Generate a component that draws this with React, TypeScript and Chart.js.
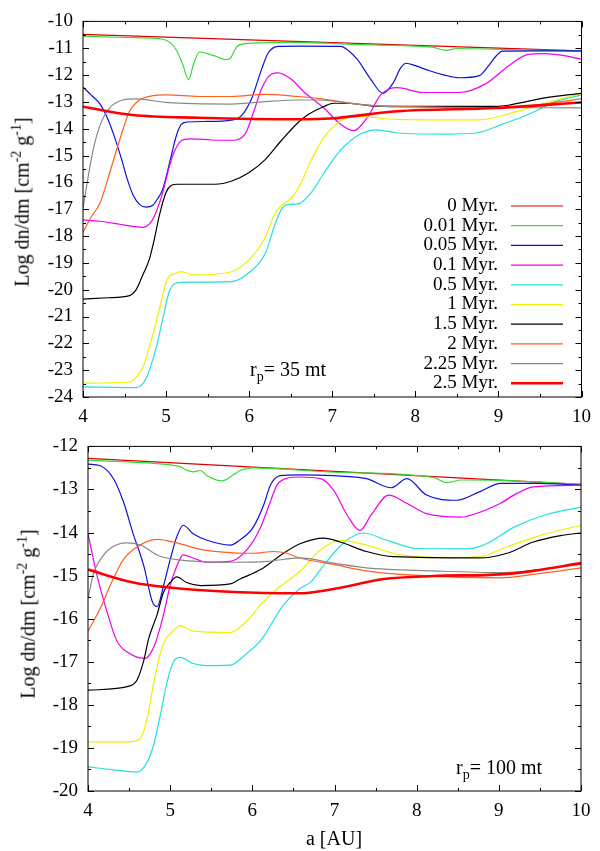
import { useEffect, useRef } from 'react'
import Chart from 'chart.js/auto'

type Pt = [number, number]

const LABELS = ['0 Myr.', '0.01 Myr.', '0.05 Myr.', '0.1 Myr.', '0.5 Myr.', '1 Myr.', '1.5 Myr.', '2 Myr.', '2.25 Myr.', '2.5 Myr.']
const COLORS = ['#dd0000', '#33dd33', '#1010dd', '#ee00ee', '#22e0e0', '#f0f000', '#000000', '#ff6020', '#888888', '#ff0000']
const WIDTHS = [1.2, 1.2, 1.2, 1.2, 1.2, 1.2, 1.2, 1.2, 1.2, 2.6]

const X_MIN = 4
const X_MAX = 10

// r_p = 35 mt
const T_0: Pt[] = [[4, -10.48], [10, -11.1]]
const T_001: Pt[] = [[4, -10.55], [4.5, -10.6], [4.9, -10.64], [5.0, -10.7], [5.06, -10.82], [5.12, -11.05], [5.2, -11.6], [5.27, -12.17], [5.33, -11.6], [5.4, -11.14], [5.5, -11.2], [5.6, -11.3], [5.72, -11.42], [5.77, -11.38], [5.85, -10.95], [5.95, -10.83], [6.5, -10.78], [7.5, -10.88], [8.2, -10.96], [8.37, -11.08], [8.5, -11.01], [9, -11.04], [10, -11.11]]
const T_005: Pt[] = [[4, -12.45], [4.1, -12.75], [4.21, -13.1], [4.3, -13.65], [4.4, -14.5], [4.47, -15.2], [4.53, -15.85], [4.6, -16.45], [4.68, -16.82], [4.76, -16.92], [4.84, -16.85], [4.9, -16.6], [4.96, -16.25], [5.06, -15.04], [5.12, -14.3], [5.18, -13.85], [5.25, -13.75], [5.5, -13.73], [5.79, -13.68], [5.91, -13.5], [6.03, -12.87], [6.15, -11.78], [6.23, -11.17], [6.35, -10.93], [6.6, -10.92], [7.1, -10.93], [7.2, -11.1], [7.3, -11.41], [7.46, -12.14], [7.61, -12.68], [7.74, -12.26], [7.82, -11.75], [7.89, -11.56], [8.0, -11.65], [8.17, -11.84], [8.35, -12.0], [8.53, -12.1], [8.77, -12.02], [8.88, -11.66], [8.97, -11.3], [9.05, -11.11], [9.5, -11.1], [10, -11.1]]
const T_01: Pt[] = [[4, -17.4], [4.2, -17.45], [4.44, -17.56], [4.6, -17.64], [4.72, -17.68], [4.8, -17.55], [4.86, -17.25], [4.96, -16.37], [5.04, -15.4], [5.1, -14.85], [5.16, -14.52], [5.22, -14.4], [5.3, -14.38], [5.55, -14.42], [5.79, -14.43], [5.95, -14.2], [6.07, -13.23], [6.15, -12.5], [6.27, -11.96], [6.35, -11.92], [6.5, -12.14], [6.66, -12.63], [6.9, -13.23], [7.1, -13.83], [7.26, -14.07], [7.42, -13.59], [7.58, -12.75], [7.7, -12.5], [7.78, -12.47], [8.09, -12.65], [8.53, -12.65], [8.85, -12.32], [9.12, -11.66], [9.36, -11.23], [9.56, -11.2], [9.76, -11.26], [10, -11.41]]
const T_05: Pt[] = [[4, -23.62], [4.64, -23.65], [4.76, -23.3], [4.88, -22.18], [4.96, -21.09], [5.04, -20.06], [5.12, -19.76], [5.3, -19.72], [5.79, -19.7], [5.99, -19.39], [6.19, -18.67], [6.31, -17.58], [6.39, -17.0], [6.47, -16.82], [6.59, -16.8], [6.75, -16.37], [6.9, -15.65], [7.1, -14.8], [7.34, -14.2], [7.54, -14.04], [7.78, -14.16], [8.37, -14.2], [8.73, -14.16], [9.05, -13.83], [9.36, -13.47], [9.68, -12.99], [10, -12.75]]
const T_1: Pt[] = [[4, -23.48], [4.55, -23.45], [4.6, -23.38], [4.72, -22.9], [4.84, -21.69], [4.92, -20.73], [5.02, -19.58], [5.12, -19.39], [5.19, -19.33], [5.32, -19.45], [5.79, -19.33], [5.99, -18.91], [6.19, -18.07], [6.31, -17.16], [6.39, -16.86], [6.5, -16.6], [6.59, -16.22], [6.75, -15.16], [6.9, -14.32], [7.1, -13.71], [7.26, -13.53], [7.78, -13.65], [8.77, -13.67], [9.16, -13.41], [9.56, -13.05], [10, -12.68]]
const T_15: Pt[] = [[4, -20.35], [4.3, -20.3], [4.56, -20.22], [4.64, -20.0], [4.72, -19.45], [4.8, -18.85], [4.86, -18.1], [4.92, -17.22], [5.0, -16.37], [5.06, -16.12], [5.14, -16.07], [5.59, -16.07], [5.79, -15.95], [5.99, -15.65], [6.19, -15.16], [6.39, -14.43], [6.59, -13.77], [6.71, -13.47], [6.9, -13.17], [7.02, -13.05], [7.18, -13.05], [7.58, -13.17], [8.97, -13.17], [9.16, -13.1], [9.56, -12.85], [10, -12.68]]
const T_2: Pt[] = [[4, -17.86], [4.09, -17.34], [4.21, -16.73], [4.32, -15.65], [4.44, -14.43], [4.56, -13.35], [4.68, -12.93], [4.84, -12.77], [5.0, -12.74], [5.4, -12.8], [5.79, -12.8], [6.19, -12.72], [6.59, -12.8], [6.83, -12.87], [7.38, -13.11], [7.78, -13.17], [8.97, -13.23], [9.76, -12.99], [10, -12.88]]
const T_225: Pt[] = [[4, -16.97], [4.07, -15.65], [4.13, -14.68], [4.21, -13.83], [4.32, -13.23], [4.48, -12.93], [4.64, -12.89], [5.0, -13.02], [5.79, -13.08], [6.19, -12.99], [6.59, -12.93], [6.83, -12.93], [7.38, -13.11], [7.78, -13.19], [10, -13.22]]
const T_25: Pt[] = [[4, -13.18], [4.6, -13.49], [5.4, -13.59], [6.59, -13.65], [6.98, -13.62], [7.78, -13.35], [8.97, -13.23], [10, -13.02]]

// r_p = 100 mt
const B_0: Pt[] = [[4, -12.28], [10, -12.88]]
const B_001: Pt[] = [[4, -12.32], [5.0, -12.43], [5.12, -12.47], [5.2, -12.55], [5.28, -12.59], [5.37, -12.56], [5.45, -12.68], [5.63, -12.8], [5.77, -12.66], [5.85, -12.56], [6.0, -12.5], [7, -12.6], [8.2, -12.72], [8.37, -12.84], [8.55, -12.78], [9, -12.79], [10, -12.88]]
const B_005: Pt[] = [[4, -12.41], [4.15, -12.45], [4.31, -12.75], [4.43, -13.28], [4.55, -14.03], [4.68, -14.78], [4.78, -15.59], [4.84, -15.72], [4.92, -15.23], [5.0, -14.63], [5.08, -14.1], [5.16, -13.83], [5.28, -14.03], [5.45, -14.18], [5.73, -14.29], [5.85, -14.17], [6.01, -13.88], [6.14, -13.35], [6.22, -12.9], [6.34, -12.68], [6.58, -12.66], [6.99, -12.68], [7.39, -12.75], [7.69, -12.96], [7.88, -12.75], [8.12, -13.13], [8.49, -13.25], [8.77, -13.05], [9.02, -12.86], [9.42, -12.86], [10, -12.9]]
const B_01: Pt[] = [[4, -14.03], [4.11, -15.0], [4.23, -15.83], [4.35, -16.51], [4.5, -16.8], [4.7, -16.92], [4.79, -16.7], [4.84, -16.45], [4.92, -15.9], [5.0, -15.23], [5.08, -14.78], [5.16, -14.52], [5.28, -14.59], [5.45, -14.69], [5.73, -14.67], [5.93, -14.41], [6.1, -13.88], [6.22, -13.28], [6.3, -12.9], [6.42, -12.74], [6.58, -12.71], [6.83, -12.75], [6.99, -13.02], [7.15, -13.58], [7.31, -13.95], [7.45, -13.58], [7.66, -13.13], [7.88, -13.32], [8.12, -13.56], [8.53, -13.64], [8.69, -13.58], [9.02, -13.32], [9.22, -13.09], [9.42, -12.94], [10, -12.9]]
const B_05: Pt[] = [[4, -19.44], [4.27, -19.5], [4.6, -19.56], [4.72, -19.33], [4.8, -18.92], [4.88, -18.24], [4.96, -17.49], [5.04, -17.0], [5.12, -16.9], [5.28, -17.04], [5.45, -17.09], [5.73, -17.08], [5.93, -16.81], [6.1, -16.51], [6.38, -15.68], [6.58, -15.3], [6.71, -15.15], [6.83, -14.86], [6.99, -14.48], [7.15, -14.18], [7.35, -14.01], [7.64, -14.18], [8.0, -14.37], [8.61, -14.38], [8.85, -14.26], [9.18, -13.88], [9.58, -13.58], [10, -13.41]]
const B_1: Pt[] = [[4, -18.86], [4.51, -18.86], [4.64, -18.77], [4.72, -18.32], [4.8, -17.49], [4.88, -16.81], [4.96, -16.43], [5.0, -16.36], [5.12, -16.16], [5.28, -16.29], [5.73, -16.32], [5.93, -16.06], [6.1, -15.68], [6.3, -15.31], [6.58, -14.9], [6.83, -14.4], [7.07, -14.18], [7.39, -14.29], [7.8, -14.52], [8.41, -14.58], [8.77, -14.56], [9.1, -14.33], [9.5, -14.07], [10, -13.83]]
const B_15: Pt[] = [[4, -17.66], [4.51, -17.56], [4.6, -17.41], [4.68, -16.96], [4.74, -16.45], [4.84, -15.91], [4.92, -15.38], [5.0, -15.16], [5.08, -15.03], [5.2, -15.16], [5.37, -15.23], [5.73, -15.19], [5.85, -15.08], [6.1, -14.86], [6.38, -14.48], [6.58, -14.26], [6.87, -14.13], [7.07, -14.22], [7.39, -14.44], [7.72, -14.56], [8.77, -14.59], [9.1, -14.48], [9.42, -14.22], [9.75, -14.07], [10, -14.01]]
const B_2: Pt[] = [[4, -16.29], [4.15, -15.76], [4.27, -15.23], [4.43, -14.63], [4.6, -14.33], [4.84, -14.16], [5.08, -14.24], [5.37, -14.39], [5.77, -14.47], [6.01, -14.48], [6.26, -14.44], [6.42, -14.48], [6.58, -14.59], [6.99, -14.74], [7.39, -14.89], [7.8, -14.97], [9.02, -15.05], [9.42, -14.97], [10, -14.82]]
const B_225: Pt[] = [[4, -15.53], [4.07, -14.93], [4.15, -14.63], [4.27, -14.37], [4.47, -14.24], [4.64, -14.29], [4.84, -14.52], [5.08, -14.63], [5.77, -14.69], [6.18, -14.67], [6.58, -14.59], [6.99, -14.71], [7.39, -14.82], [8.21, -14.89], [9.02, -14.93], [10, -14.74]]
const B_25: Pt[] = [[4, -14.86], [4.55, -15.16], [4.96, -15.27], [5.77, -15.38], [6.58, -15.41], [6.99, -15.31], [7.6, -15.08], [8.2, -15.01], [9.02, -14.97], [9.42, -14.89], [10, -14.71]]

const TOP_SERIES = [T_0, T_001, T_005, T_01, T_05, T_1, T_15, T_2, T_225, T_25]
const BOTTOM_SERIES = [B_0, B_001, B_005, B_01, B_05, B_1, B_15, B_2, B_225, B_25]

const FONT = '"Liberation Serif", "Times New Roman", serif'

// gnuplot style box with inward ticks on all four sides
const framePlugin = {
  id: 'frame',
  afterDatasetsDraw(chart: any) {
    const { ctx, chartArea: a, scales } = chart
    const xs = scales.x
    const ys = scales.y
    ctx.save()
    ctx.strokeStyle = '#000'
    ctx.lineWidth = 1
    ctx.strokeRect(a.left, a.top, a.right - a.left, a.bottom - a.top)
    ctx.beginPath()
    for (let v = xs.min; v <= xs.max + 1e-6; v += 0.5) {
      const px = Math.round(xs.getPixelForValue(v)) + 0.5
      const len = Math.abs(v - Math.round(v)) < 1e-6 ? 6 : 3
      ctx.moveTo(px, a.bottom)
      ctx.lineTo(px, a.bottom - len)
      ctx.moveTo(px, a.top)
      ctx.lineTo(px, a.top + len)
    }
    for (let v = ys.min; v <= ys.max + 1e-6; v += 0.5) {
      const py = Math.round(ys.getPixelForValue(v)) + 0.5
      const len = Math.abs(v - Math.round(v)) < 1e-6 ? 6 : 3
      ctx.moveTo(a.left, py)
      ctx.lineTo(a.left + len, py)
      ctx.moveTo(a.right, py)
      ctx.lineTo(a.right - len, py)
    }
    ctx.stroke()
    ctx.restore()
  },
}

// key in the top panel: right-aligned text, sample line on the right
const keyPlugin = {
  id: 'key',
  afterDraw(chart: any) {
    const { ctx } = chart
    ctx.save()
    ctx.font = `19px ${FONT}`
    ctx.textAlign = 'right'
    ctx.textBaseline = 'middle'
    chart.data.datasets.forEach((ds: any, i: number) => {
      const y = 206 + i * 19.7
      ctx.fillStyle = '#000'
      ctx.fillText(ds.label, 498, y)
      ctx.strokeStyle = ds.borderColor
      ctx.lineWidth = ds.borderWidth
      ctx.beginPath()
      ctx.moveTo(511, y)
      ctx.lineTo(563, y)
      ctx.stroke()
    })
    ctx.restore()
  },
}

type PanelProps = {
  series: Pt[][]
  yMin: number
  yMax: number
  top: number
  height: number
  area: { left: number; right: number; top: number; bottom: number }
  withKey?: boolean
}

function Panel({ series, yMin, yMax, top, height, area, withKey }: PanelProps) {
  const canvasRef = useRef<HTMLCanvasElement>(null)

  useEffect(() => {
    if (!canvasRef.current) return
    const tickFont = { family: FONT, size: 19 }
    const chart = new Chart(canvasRef.current, {
      type: 'line',
      data: {
        datasets: series.map((pts, i) => ({
          label: LABELS[i],
          data: pts.map(([x, y]) => ({ x, y })),
          borderColor: COLORS[i],
          backgroundColor: COLORS[i],
          borderWidth: WIDTHS[i],
          pointRadius: 0,
          cubicInterpolationMode: 'monotone' as const,
          fill: false,
          order: series.length - i,
        })),
      },
      options: {
        animation: false,
        responsive: true,
        maintainAspectRatio: false,
        events: [],
        layout: { padding: { top: area.top, right: 600 - area.right, left: 0, bottom: 0 } },
        plugins: { legend: { display: false }, tooltip: { enabled: false } },
        scales: {
          x: {
            type: 'linear',
            min: X_MIN,
            max: X_MAX,
            grid: { display: false, drawTicks: false },
            border: { display: false },
            ticks: { stepSize: 1, color: '#000', font: tickFont, padding: 9 },
            afterFit: (s: any) => { s.height = height - area.bottom },
          },
          y: {
            type: 'linear',
            min: yMin,
            max: yMax,
            grid: { display: false, drawTicks: false },
            border: { display: false },
            ticks: { stepSize: 1, color: '#000', font: tickFont, padding: 10 },
            afterFit: (s: any) => { s.width = area.left },
          },
        },
      },
      plugins: withKey ? [framePlugin, keyPlugin] : [framePlugin],
    })
    return () => chart.destroy()
  }, [series, yMin, yMax, height, area, withKey])

  return (
    <div style={{ position: 'absolute', left: 0, top, width: 600, height }}>
      <canvas ref={canvasRef}></canvas>
    </div>
  )
}

const TOP_AREA = { left: 83, right: 587, top: 11, bottom: 397 }
const BOTTOM_AREA = { left: 88, right: 581, top: 12, bottom: 366 }

const yTitle = (
  <>
    Log dn/dm [cm<sup style={{ fontSize: 14 }}>-2</sup> g<sup style={{ fontSize: 14 }}>-1</sup>]
  </>
)

export default function App() {
  const text: React.CSSProperties = { position: 'absolute', fontFamily: FONT, fontSize: 20, color: '#000', whiteSpace: 'nowrap', lineHeight: '20px' }
  const rot: React.CSSProperties = { ...text, transform: 'translate(-50%, -50%) rotate(-90deg)' }
  return (
    <div style={{ position: 'absolute', left: 0, top: 0, width: 600, height: 851, background: '#fff', overflow: 'hidden' }}>
      <Panel series={TOP_SERIES} yMin={-24} yMax={-10} top={0} height={430} area={TOP_AREA} withKey />
      <Panel series={BOTTOM_SERIES} yMin={-20} yMax={-12} top={425} height={426} area={BOTTOM_AREA} />
      <div style={{ ...rot, left: 19, top: 202 }}>{yTitle}</div>
      <div style={{ ...rot, left: 25, top: 614 }}>{yTitle}</div>
      <div style={{ ...text, left: 250, top: 359 }}>
        r<sub style={{ fontSize: 14 }}>p</sub>= 35 mt
      </div>
      <div style={{ ...text, left: 456, top: 757 }}>
        r<sub style={{ fontSize: 14 }}>p</sub>= 100 mt
      </div>
      <div style={{ ...text, left: 334, top: 838, transform: 'translate(-50%, -50%)' }}>a [AU]</div>
    </div>
  )
}
